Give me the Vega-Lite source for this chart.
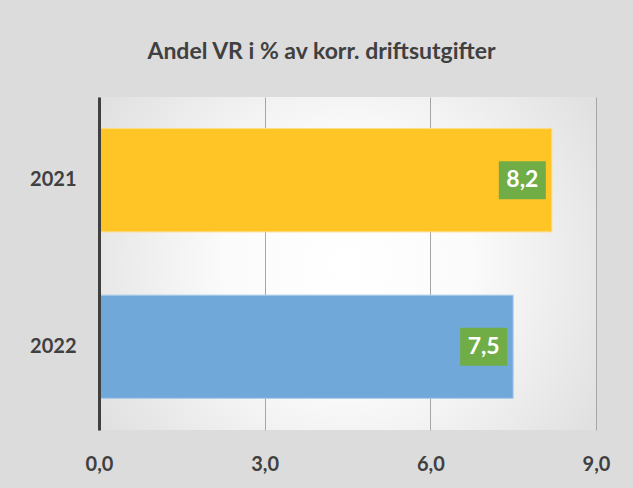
{
  "$schema": "https://vega.github.io/schema/vega-lite/v6.json",
  "width": 497,
  "height": 333,
  "autosize": {"type": "none"},
  "padding": {"left": 99, "top": 97, "right": 37, "bottom": 58},
  "background": "#dcdcdc",
  "title": {
    "text": "Andel VR i % av korr. driftsutgifter",
    "font": "Lato",
    "fontSize": 23,
    "fontWeight": "bold",
    "color": "#404040",
    "anchor": "middle",
    "frame": "group",
    "dx": -26,
    "offset": 33
  },
  "config": {
    "locale": {"number": {"decimal": ",", "thousands": " ", "grouping": [3], "currency": ["", " kr"]}},
    "view": {
      "stroke": null,
      "fill": {"expr": "{gradient: 'radial', x1: 0.5, y1: 0.5, x2: 0.5, y2: 0.5, r1: 0, r2: 0.62, stops: [{offset: 0, color: '#ffffff'}, {offset: 0.4, color: '#fbfbfb'}, {offset: 1, color: '#dedede'}]}"}
    },
    "font": "Lato"
  },
  "datasets": {
    "vals": [
      {"year": "2021", "value": 8.2},
      {"year": "2022", "value": 7.5}
    ]
  },
  "layer": [
    {
      "data": {"name": "vals"},
      "mark": {"type": "bar", "strokeWidth": 1},
      "encoding": {
        "y": {
          "field": "year", "type": "nominal", "sort": ["2021", "2022"],
          "scale": {"paddingInner": 0.38, "paddingOuter": 0.19},
          "axis": {
            "title": null, "domain": true, "domainColor": "#404040", "domainWidth": 3,
            "ticks": false, "grid": false, "labelFont": "Lato", "labelFontSize": 20,
            "labelFontWeight": "bold", "labelColor": "#404040", "labelPadding": 23, "zindex": 2
          }
        },
        "x": {
          "field": "value", "type": "quantitative",
          "scale": {"domain": [0, 9], "nice": false},
          "axis": {
            "title": null, "values": [0, 3, 6, 9], "format": ".1f", "grid": true,
            "gridColor": "#a6a6a6", "gridWidth": 1, "domain": false, "ticks": false,
            "labelFlush": false,
            "labelFont": "Lato", "labelFontSize": 20, "labelFontWeight": "bold",
            "labelColor": "#404040", "labelPadding": 24
          }
        },
        "color": {
          "field": "year", "type": "nominal",
          "scale": {"domain": ["2021", "2022"], "range": ["#FFC425", "#71A8DA"]},
          "legend": null
        },
        "stroke": {
          "field": "year", "type": "nominal",
          "scale": {"domain": ["2021", "2022"], "range": ["#FFDD7A", "#A9CBEA"]},
          "legend": null
        }
      }
    },
    {
      "data": {"name": "vals"},
      "mark": {"type": "tick", "color": "#70AD47", "thickness": 47, "size": 38, "xOffset": -29.5, "opacity": 1},
      "encoding": {
        "y": {"field": "year", "type": "nominal", "sort": ["2021", "2022"]},
        "x": {"field": "value", "type": "quantitative"}
      }
    },
    {
      "data": {"name": "vals"},
      "mark": {"type": "text", "color": "#ffffff", "font": "Lato", "fontSize": 23, "fontWeight": "bold", "dx": -29.5, "baseline": "middle", "align": "center"},
      "encoding": {
        "y": {"field": "year", "type": "nominal", "sort": ["2021", "2022"]},
        "x": {"field": "value", "type": "quantitative"},
        "text": {"field": "value", "type": "quantitative", "format": ".1f"}
      }
    }
  ]
}
